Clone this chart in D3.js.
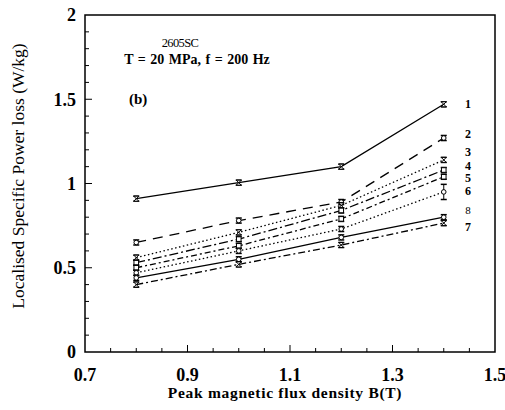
<!DOCTYPE html>
<html>
<head>
<meta charset="utf-8">
<script src="https://cdn.jsdelivr.net/npm/d3@7"></script>
<style>
  body { margin: 0; background: #fff; }
  text { font-family: "Liberation Serif", "DejaVu Serif", serif; fill: #000; }
</style>
</head>
<body>
<div id="container"></div>
<script>
// field values (T)
let fluxDensity = [0.8, 1.0, 1.2, 1.4];

// localised loss per position (W/kg)
let seriesNames = ["1", "2", "3", "4", "5", "6", "8", "7"];
let loss1 = [0.91, 1.005, 1.10, 1.47];
let loss2 = [0.65, 0.78, 0.89, 1.27];
let loss3 = [0.56, 0.71, 0.87, 1.14];
let loss4 = [0.53, 0.67, 0.84, 1.08];
let loss5 = [0.50, 0.63, 0.79, 1.04];
let loss6 = [0.47, 0.60, 0.73, 0.95];
let loss8 = [0.44, 0.55, 0.68, 0.80];
let loss7 = [0.40, 0.52, 0.635, 0.765];
let errBar = [0.015, 0.015, 0.015, 0.015];
let errBar6 = [0.015, 0.015, 0.015, 0.045];

let xTicks = [0.7, 0.9, 1.1, 1.3, 1.5];
let yTicks = [0, 0.5, 1, 1.5, 2];

let margin = {top: 15, right: 10, bottom: 58, left: 85};
let width = 505, height = 410;

let series = [
    {name: "1", values: loss1, err: errBar, dash: null, marker: "hour"},
    {name: "2", values: loss2, err: errBar, dash: "10,7", marker: "circle"},
    {name: "3", values: loss3, err: errBar, dash: "1.5,2.5", marker: "hour"},
    {name: "4", values: loss4, err: errBar, dash: "9,3,2,3", marker: "square"},
    {name: "5", values: loss5, err: errBar, dash: "6,3,2,3", marker: "square"},
    {name: "6", values: loss6, err: errBar6, dash: "1.5,2.5", marker: "circle"},
    {name: "8", values: loss8, err: errBar, dash: null, marker: "circle"},
    {name: "7", values: loss7, err: errBar, dash: "7,3,2,3", marker: "hour"}
];
let labelY = {"1": 1.472, "2": 1.294, "3": 1.188, "4": 1.107, "5": 1.031, "6": 0.955, "8": 0.843, "7": 0.742};

let svg = d3.select("#container").append("svg")
    .attr("width", width)
    .attr("height", height);

let x = d3.scaleLinear().domain([0.7, 1.5]).range([margin.left, width - margin.right]);
let y = d3.scaleLinear().domain([0, 2]).range([height - margin.bottom, margin.top]);

// frame
svg.append("rect")
    .attr("x", x(0.7))
    .attr("y", y(2))
    .attr("width", x(1.5) - x(0.7))
    .attr("height", y(0) - y(2))
    .style("fill", "none")
    .style("stroke", "black")
    .style("stroke-width", "1.5px");

// ticks (inward)
let xMinor = d3.range(0.75, 1.5, 0.05);
svg.append("g").selectAll("line")
    .data(xMinor)
    .enter().append("line")
    .attr("x1", d => x(d)).attr("x2", d => x(d))
    .attr("y1", y(0)).attr("y2", d => y(0) - (Math.abs((d - 0.7) / 0.2 - Math.round((d - 0.7) / 0.2)) < 1e-6 ? 7 : 4))
    .style("stroke", "black");

let yMinor = d3.range(0.1, 2, 0.1);
svg.append("g").selectAll("line")
    .data(yMinor)
    .enter().append("line")
    .attr("x1", x(0.7)).attr("x2", d => x(0.7) + (Math.abs(d * 2 - Math.round(d * 2)) < 1e-6 ? 7 : 4))
    .attr("y1", d => y(d)).attr("y2", d => y(d))
    .style("stroke", "black");

svg.append("g").selectAll("text")
    .data(xTicks)
    .enter().append("text")
    .attr("x", d => x(d))
    .attr("y", y(0) + 29)
    .attr("text-anchor", "middle")
    .style("font-size", "18px")
    .style("font-weight", "bold")
    .text(d => d3.format(".1f")(d));

svg.append("g").selectAll("text")
    .data(yTicks)
    .enter().append("text")
    .attr("x", x(0.7) - 9)
    .attr("y", d => y(d))
    .attr("dy", ".35em")
    .attr("text-anchor", "end")
    .style("font-size", "18px")
    .style("font-weight", "bold")
    .text(d => d);

// axis titles
svg.append("text")
    .attr("x", 285)
    .attr("y", height - 12)
    .attr("text-anchor", "middle")
    .style("font-size", "15.5px")
    .style("font-weight", "bold")
    .style("letter-spacing", "0.7px")
    .text("Peak magnetic flux density B(T)");

svg.append("text")
    .attr("transform", "translate(24,176) rotate(-90)")
    .attr("text-anchor", "middle")
    .style("font-size", "17.5px")
    .text("Localised Specific Power loss (W/kg)");

// annotations
svg.append("text")
    .attr("x", 180).attr("y", 47)
    .attr("text-anchor", "middle")
    .style("font-size", "12.5px")
    .style("letter-spacing", "-0.6px")
    .text("2605SC");
svg.append("text")
    .attr("x", 197).attr("y", 64)
    .attr("text-anchor", "middle")
    .style("font-size", "14px")
    .style("font-weight", "bold")
    .style("word-spacing", "1px")
    .text("T = 20 MPa,  f = 200 Hz");
svg.append("text")
    .attr("x", 129).attr("y", 104)
    .style("font-size", "15px")
    .style("font-weight", "bold")
    .text("(b)");

let line = d3.line()
    .x((d, i) => x(fluxDensity[i]))
    .y(d => y(d));

let group = svg.selectAll(".series")
    .data(series)
    .enter().append("g")
    .attr("class", "series");

group.append("path")
    .attr("d", d => line(d.values))
    .style("fill", "none")
    .style("stroke", "black")
    .style("stroke-width", "1.3px")
    .style("stroke-dasharray", d => d.dash);

// error bars and markers
let pts = group.selectAll(".pt")
    .data(d => d.values.map((v, i) => ({v: v, e: d.err[i], b: fluxDensity[i], m: d.marker})))
    .enter().append("g")
    .attr("class", "pt")
    .attr("transform", d => "translate(" + x(d.b) + ",0)");

pts.append("line")
    .attr("x1", 0).attr("x2", 0)
    .attr("y1", d => y(d.v - d.e)).attr("y2", d => y(d.v + d.e))
    .style("stroke", "black");
pts.append("line")
    .attr("x1", -3).attr("x2", 3)
    .attr("y1", d => y(d.v + d.e)).attr("y2", d => y(d.v + d.e))
    .style("stroke", "black").style("stroke-width", "1.5px");
pts.append("line")
    .attr("x1", -3).attr("x2", 3)
    .attr("y1", d => y(d.v - d.e)).attr("y2", d => y(d.v - d.e))
    .style("stroke", "black").style("stroke-width", "1.5px");

pts.filter(d => d.m === "circle").append("circle")
    .attr("cy", d => y(d.v)).attr("r", 2.3)
    .style("fill", "white").style("stroke", "black");
pts.filter(d => d.m === "square").append("rect")
    .attr("x", -2.3).attr("y", d => y(d.v) - 2.3)
    .attr("width", 4.6).attr("height", 4.6)
    .style("fill", "white").style("stroke", "black");
pts.filter(d => d.m === "hour").append("path")
    .attr("d", d => "M-2.5," + (y(d.v) - 2.5) + "L2.5," + (y(d.v) - 2.5) + "L-2.5," + (y(d.v) + 2.5) + "L2.5," + (y(d.v) + 2.5) + "Z")
    .style("fill", "white").style("stroke", "black");

// series labels on the right
svg.append("g").selectAll("text")
    .data(seriesNames)
    .enter().append("text")
    .attr("x", 468)
    .attr("y", d => y(labelY[d]))
    .attr("dy", ".35em")
    .attr("text-anchor", "middle")
    .style("font-size", d => d === "8" ? "11px" : "12px")
    .style("font-weight", d => d === "8" ? "normal" : "bold")
    .text(d => d);
</script>
</body>
</html>
